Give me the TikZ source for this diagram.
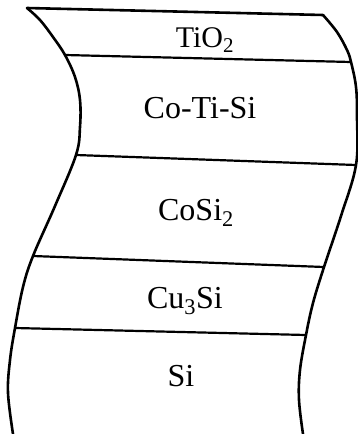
\documentclass[tikz,border=0pt]{standalone}
\usepackage{fontspec}
\setmainfont{Liberation Serif}
\usepackage{tikz}
\tikzset{
    rim/.style = {line width=2.6pt, line join=round, line cap=round},
    cut/.style = {line width=2.2pt, line cap=round},
    layer/.style = {align=center, inner sep=0pt, anchor=base, font=\fontsize{32}{38}\selectfont}
}

\begin{document}
\begin{tikzpicture}
            [x=1pt, y=-1pt]

            \useasboundingbox (0,0) rectangle (358,434);

            % layer corners, left and right
            \coordinate (tl) at (27,8);   \coordinate (tr) at (323,15);
            \coordinate (l1) at (65,55);  \coordinate (r1) at (351,62);
            \coordinate (l2) at (76,155); \coordinate (r2) at (356,165);
            \coordinate (l3) at (33,256); \coordinate (r3) at (324,267);
            \coordinate (l4) at (15,328); \coordinate (r4) at (306,335);
            \coordinate (lb) at (13,434); \coordinate (rb) at (303,434);

            % curved sides
            \draw [rim] plot [smooth, tension=0.6] coordinates
                {(tl) (40,20) (53,37) (l1) (75,77) (80,100) (80,127) (l2)
                 (55,206) (l3) (23,287) (l4) (10,360) (8,393) (lb)};
            \draw [rim] plot [smooth, tension=0.6] coordinates
                {(tr) (337,32) (347,50) (r1) (356,87) (357,117) (r2)
                 (341,216) (r3) (313,303) (r4) (300,370) (299,400) (rb)};

            % interfaces
            \draw [rim] (tl) -- (tr);
            \draw [cut] (l1) -- (r1);
            \draw [cut] (l2) -- (r2);
            \draw [cut] (l3) -- (r3);
            \draw [cut] (l4) -- (r4);

            % layer names
            \node [layer, font=\fontsize{30}{36}\selectfont] (tio) at (205,47) {TiO\textsubscript{2}};
            \node [layer] (coti) at (200,118) {Co-Ti-Si};
            \node [layer] (cosi) at (196,220) {CoSi\textsubscript{2}};
            \node [layer] (cusi) at (185,308) {Cu\textsubscript{3}Si};
            \node [layer] (si) at (181,386) {Si};
\end{tikzpicture}
\end{document}
